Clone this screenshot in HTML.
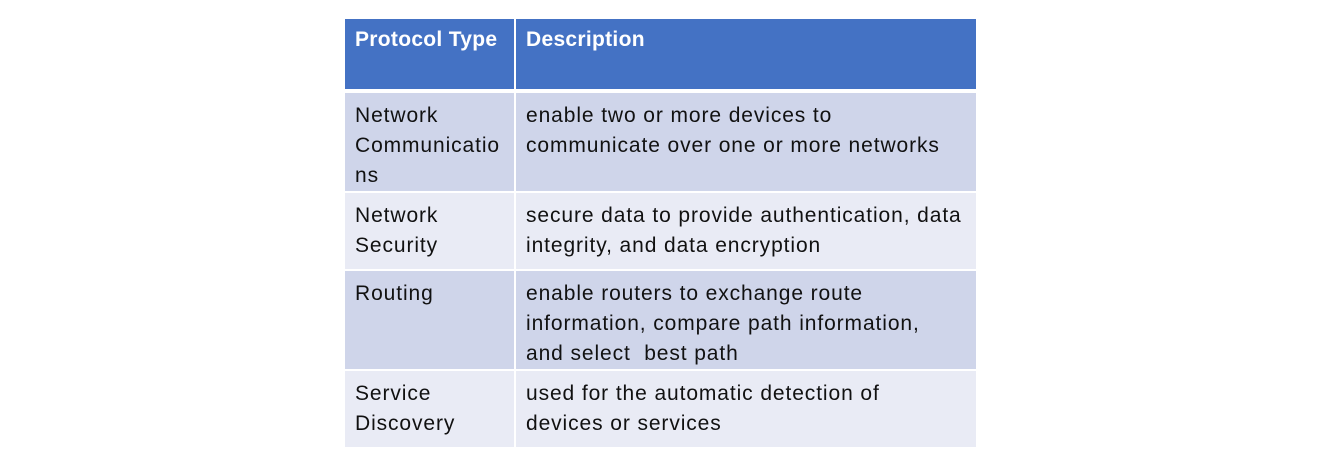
<!DOCTYPE html>
<html><head><style>
body{margin:0;width:1319px;height:474px;background:#fff;position:relative;font-family:"Liberation Sans",sans-serif;}
.c{position:absolute;box-sizing:border-box;padding:8px 0 0 10px;font-size:21px;letter-spacing:0.9px;line-height:30px;color:#111;white-space:nowrap;}
.h{background:#4472C4;color:#fff;font-weight:bold;padding-top:6px;letter-spacing:0.3px;}
.o{background:#CFD5EA;}
.e{background:#E9EBF5;}
</style></head><body>
<div class="c h" style="left:345px;top:19px;width:169px;height:70px">Protocol Type</div>
<div class="c h" style="left:516px;top:19px;width:460px;height:70px">Description</div>

<div class="c o" style="left:345px;top:93px;width:169px;height:98px">Network<br>Communicatio<br>ns</div>
<div class="c o" style="left:516px;top:93px;width:460px;height:98px">enable two or more devices to<br>communicate over one or more networks</div>

<div class="c e" style="left:345px;top:193px;width:169px;height:76px">Network<br>Security</div>
<div class="c e" style="left:516px;top:193px;width:460px;height:76px">secure data to provide authentication, data<br>integrity, and data encryption</div>

<div class="c o" style="left:345px;top:271px;width:169px;height:98px">Routing</div>
<div class="c o" style="left:516px;top:271px;width:460px;height:98px">enable routers to exchange route<br>information, compare path information,<br>and select&nbsp; best path</div>

<div class="c e" style="left:345px;top:371px;width:169px;height:76px">Service<br>Discovery</div>
<div class="c e" style="left:516px;top:371px;width:460px;height:76px">used for the automatic detection of<br>devices or services</div>
</body></html>
